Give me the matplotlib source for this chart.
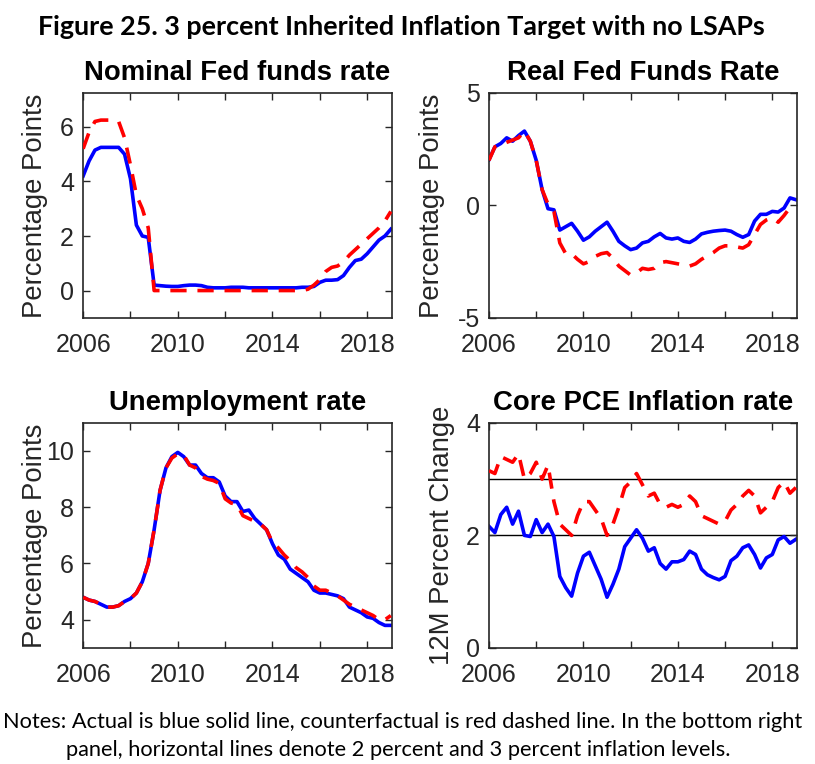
import numpy as np
import matplotlib
matplotlib.use('Agg')
import matplotlib.pyplot as plt
from matplotlib.ticker import FixedLocator

plt.rcParams['font.family'] = 'Liberation Sans'
plt.rcParams['axes.unicode_minus'] = False

# quarterly dates, 2006Q1 .. 2019Q1
dates = np.arange(2006, 2019.001, 0.25)

ffr_actual = [4.2, 4.75, 5.15, 5.25,
              5.25, 5.25, 5.25, 5.0,
              4.1, 2.4, 2.0, 1.95,
              0.2, 0.18, 0.16, 0.15,
              0.15, 0.18, 0.2, 0.2,
              0.18, 0.12, 0.1, 0.1,
              0.1, 0.12, 0.12, 0.12,
              0.1, 0.1, 0.1, 0.1,
              0.1, 0.1, 0.1, 0.1,
              0.1, 0.12, 0.12, 0.15,
              0.3, 0.38, 0.38, 0.4,
              0.55, 0.85, 1.1, 1.15,
              1.35, 1.6, 1.85, 2.0,
              2.25]
ffr_counter = [5.2, 5.8, 6.2, 6.25,
               6.25, 6.25, 6.2, 5.6,
               4.6, 3.5, 3.0, 2.3,
               0.0, 0.0, 0.0, 0.0,
               0.0, 0.0, 0.0, 0.0,
               0.0, 0.0, 0.0, 0.0,
               0.0, 0.0, 0.0, 0.0,
               0.0, 0.0, 0.0, 0.0,
               0.0, 0.0, 0.0, 0.0,
               0.0, 0.0, 0.05, 0.2,
               0.4, 0.7, 0.85, 0.9,
               1.05, 1.3, 1.5, 1.7,
               1.9, 2.1, 2.3, 2.55,
               2.9]

real_actual = [2.03, 2.6, 2.75, 3.0,
               2.85, 3.1, 3.3, 2.85,
               2.0, 0.7, -0.15, -0.2,
               -1.1, -0.95, -0.8, -1.15,
               -1.55, -1.4, -1.15, -0.95,
               -0.75, -1.15, -1.6, -1.8,
               -1.97, -1.9, -1.67, -1.6,
               -1.4, -1.25, -1.45, -1.5,
               -1.45, -1.6, -1.65, -1.5,
               -1.27, -1.2, -1.15, -1.12,
               -1.1, -1.15, -1.3, -1.42,
               -1.3, -0.7, -0.4, -0.4,
               -0.27, -0.3, -0.12, 0.33,
               0.25]
real_counter = [2.0, 2.6, 2.7, 2.8,
                2.9, 3.0, 3.3, 2.85,
                2.0, 0.7, 0.05, -0.27,
                -1.67, -2.15, -2.15, -2.4,
                -2.6, -2.5, -2.27, -2.15,
                -2.1, -2.35, -2.7, -2.9,
                -3.1, -3.0, -2.8, -2.85,
                -2.8, -2.55, -2.5, -2.55,
                -2.6, -2.65, -2.7, -2.6,
                -2.4, -2.25, -2.1, -1.9,
                -1.8, -1.8, -1.85, -1.9,
                -1.75, -1.3, -0.85, -0.65,
                -0.55, -0.75, -0.45, -0.1,
                0.0]

unemp_actual = [4.8, 4.7, 4.65, 4.55,
                4.45, 4.45, 4.5, 4.65,
                4.75, 4.95, 5.35, 6.0,
                7.2, 8.6, 9.4, 9.8,
                9.95, 9.8, 9.5, 9.5,
                9.2, 9.05, 9.05, 8.9,
                8.4, 8.2, 8.2, 7.85,
                7.9, 7.6, 7.4, 7.2,
                6.7, 6.3, 6.15, 5.8,
                5.65, 5.5, 5.35, 5.05,
                4.95, 4.95, 4.9, 4.85,
                4.75, 4.45, 4.35, 4.25,
                4.1, 4.05, 3.9, 3.8,
                3.8]
unemp_counter = [4.8, 4.7, 4.65, 4.55,
                 4.45, 4.45, 4.5, 4.65,
                 4.75, 4.95, 5.35, 6.0,
                 7.2, 8.6, 9.4, 9.75,
                 9.9, 9.85, 9.5, 9.4,
                 9.1, 9.0, 8.95, 8.85,
                 8.3, 8.15, 8.1, 7.7,
                 7.6, 7.5, 7.4, 7.2,
                 6.75, 6.55, 6.3, 6.1,
                 5.85, 5.7, 5.5, 5.2,
                 5.05, 5.05, 4.95, 4.85,
                 4.7, 4.55, 4.45, 4.35,
                 4.25, 4.15, 4.0, 4.0,
                 4.15]

pce_actual = [2.16, 2.05, 2.37, 2.5,
              2.2, 2.43, 2.0, 1.98,
              2.28, 2.05, 2.2, 1.98,
              1.27, 1.07, 0.92, 1.33,
              1.63, 1.7, 1.46, 1.22,
              0.9, 1.13, 1.4, 1.8,
              1.95, 2.1, 1.95, 1.72,
              1.78, 1.5, 1.4, 1.53,
              1.53, 1.57, 1.72, 1.66,
              1.4, 1.3, 1.25, 1.21,
              1.27, 1.55, 1.63, 1.78,
              1.83, 1.66, 1.42, 1.6,
              1.66, 1.92, 1.98, 1.86,
              1.93]
pce_counter = [3.15, 3.1, 3.4, 3.35,
               3.3, 3.45, 3.0, 3.1,
               3.3, 3.0, 3.25, 2.6,
               2.2, 2.1, 2.0, 2.35,
               2.6, 2.6, 2.45, 2.3,
               2.0, 2.2, 2.5, 2.85,
               2.95, 3.1, 2.9, 2.7,
               2.75, 2.55, 2.5, 2.55,
               2.5, 2.55, 2.7, 2.6,
               2.35, 2.3, 2.25, 2.2,
               2.25, 2.45, 2.55, 2.7,
               2.8, 2.7, 2.4, 2.5,
               2.6, 2.85, 2.95, 2.75,
               2.85]

xticks_major = [2006, 2010, 2014, 2018]
xticks_minor = [2008, 2012, 2016]
pce_levels = [2, 3]

gray = '#262626'

fig = plt.figure(figsize=(8.15, 7.64), dpi=100)

panels = [
    # rect, title, ylabel, ylim, yticks, actual, counter, label x
    ([0.102, 0.584, 0.379, 0.2945], 'Nominal Fed funds rate', 'Percentage Points',
     (-1, 7.25), [0, 2, 4, 6], ffr_actual, ffr_counter, -0.115),
    ([0.600, 0.584, 0.378, 0.2945], 'Real Fed Funds Rate', 'Percentage Points',
     (-5, 5), [-5, 0, 5], real_actual, real_counter, -0.143),
    ([0.102, 0.152, 0.379, 0.2945], 'Unemployment rate', 'Percentage Points',
     (3, 11), [4, 6, 8, 10], unemp_actual, unemp_counter, -0.115),
    ([0.600, 0.152, 0.378, 0.2945], 'Core PCE Inflation rate', '12M Percent Change',
     (0, 4), [0, 2, 4], pce_actual, pce_counter, -0.11),
]

for i, (rect, title, ylab, ylim, yticks, act, cf, labx) in enumerate(panels):
    ax = fig.add_axes(rect)
    if i == 3:
        for lev in pce_levels:
            ax.axhline(lev, color='black', lw=1.0, zorder=1)
    ax.plot(dates, act, color='blue', lw=2.6, zorder=2)
    ax.plot(dates, cf, color='red', lw=2.6, ls=(0, (4.5, 3)), zorder=3)
    ax.set_xlim(2006, 2019.05)
    ax.set_ylim(*ylim)
    ax.xaxis.set_major_locator(FixedLocator(xticks_major))
    ax.xaxis.set_minor_locator(FixedLocator(xticks_minor))
    ax.set_yticks(yticks)
    ax.tick_params(which='both', direction='in', top=True, right=True,
                   length=5, width=1, color=gray, labelcolor=gray,
                   labelsize=18)
    ax.tick_params(axis='x', pad=11)
    ax.tick_params(axis='y', pad=6.5)
    for sp in ax.spines.values():
        sp.set_color(gray)
        sp.set_linewidth(1.2)
    ax.set_title(title, fontsize=19.8, fontweight='bold', color='black', pad=9)
    ax.set_ylabel(ylab, fontsize=19.8, color=gray)
    ax.yaxis.set_label_coords(labx, 0.5)

fig.text(0.493, 0.954, 'Figure 25. 3 percent Inherited Inflation Target with no LSAPs',
         ha='center', va='baseline', fontsize=19.4, fontweight='bold', family='Lato')
fig.text(0.494, 0.047, 'Notes: Actual is blue solid line, counterfactual is red dashed line. '
         'In the bottom right', ha='center', va='baseline', fontsize=15.7, family='Lato')
fig.text(0.489, 0.0105, 'panel, horizontal lines denote 2 percent and 3 percent inflation levels.',
         ha='center', va='baseline', fontsize=15.7, family='Lato')

fig.savefig('out.png', dpi=100)
